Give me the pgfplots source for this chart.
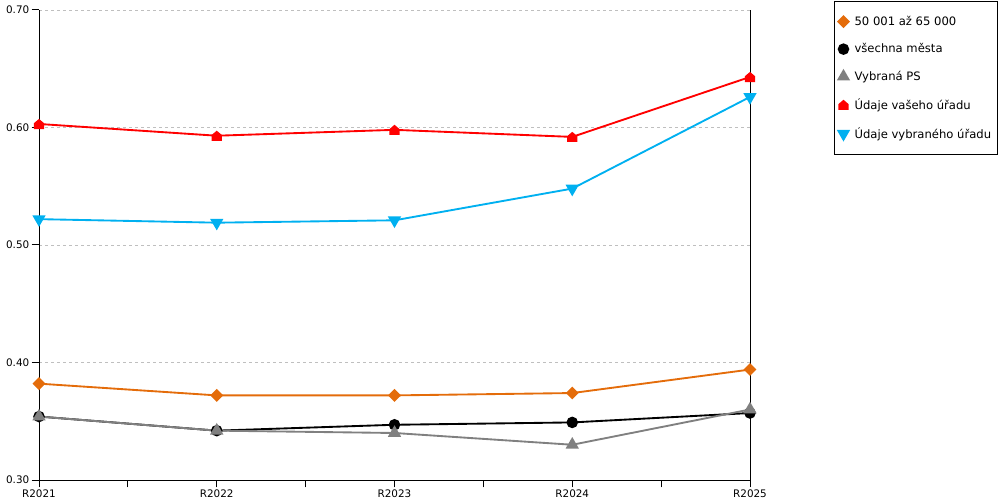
\documentclass[border=0pt]{standalone}
\usepackage{fontspec}
\setmainfont{DejaVu Sans}
\usepackage{pgfplots}
\pgfplotsset{compat=1.18}
\definecolor{corange}{RGB}{228,108,10}
\definecolor{cgray}{RGB}{128,128,128}
\definecolor{cred}{RGB}{255,0,0}
\definecolor{cblue}{RGB}{0,176,240}
\pgfdeclareplotmark{house}{%
 \pgfpathmoveto{\pgfqpoint{-\pgfplotmarksize}{-\pgfplotmarksize}}%
 \pgfpathlineto{\pgfqpoint{\pgfplotmarksize}{-\pgfplotmarksize}}%
 \pgfpathlineto{\pgfqpoint{\pgfplotmarksize}{0.15\pgfplotmarksize}}%
 \pgfpathlineto{\pgfqpoint{0pt}{\pgfplotmarksize}}%
 \pgfpathlineto{\pgfqpoint{-\pgfplotmarksize}{0.15\pgfplotmarksize}}%
 \pgfpathclose\pgfusepathqfill}
\begin{document}
\fontsize{7.8bp}{9bp}\selectfont
\begin{tikzpicture}
\useasboundingbox (-29.25bp,-15bp) rectangle (720.75bp,360bp);
\begin{axis}[
  scale only axis,
  width=533.25bp, height=352.5bp,
  xmin=0, xmax=4, ymin=0.3, ymax=0.7,
  xtick={0,1,2,3,4},
  xticklabels={R2021,R2022,R2023,R2024,R2025},
  minor x tick num=1,
  ytick={0.3,0.4,0.5,0.6,0.7},
  /pgf/number format/fixed,
  /pgf/number format/fixed zerofill,
  /pgf/number format/precision=2,
  /pgf/number format/assume math mode=true,
  axis x line*=bottom, axis y line*=left,
  axis line style={-, black, line width=0.75bp},
  tick style={black, line width=0.75bp},
  tick align=outside,
  major tick length=5.5bp, minor tick length=5.5bp,
  xtick pos=bottom, ytick pos=left,
  ymajorgrids,
  grid style={gray!50, line width=0.6bp, dash pattern=on 2bp off 2.5bp},
  tick label style={font=\fontsize{7.8bp}{9bp}\selectfont},
  xticklabel style={yshift=1bp},
  yticklabel style={xshift=1bp},
  every axis plot/.append style={line width=1.4bp},
  clip=false,
  legend style={at={(1.118,1.019)}, anchor=north west, draw=black, line width=0.75bp,
    font=\fontsize{8.7bp}{9.5bp}\selectfont, row sep=8.5bp, inner xsep=3bp, inner ysep=9bp,
    cells={anchor=west},
    /tikz/every odd column/.append style={column sep=2.5bp}},
  legend cell align=left,
  legend image code/.code={\draw[#1] plot coordinates {(0.1cm,0cm)};},
]
\draw[black, line width=0.75bp] (rel axis cs:1,0) -- (rel axis cs:1,1);
\addplot[color=corange, mark=square*, mark size=2.7bp, mark options={rotate=45}] coordinates {(0,0.382)(1,0.372)(2,0.372)(3,0.374)(4,0.394)};
\addlegendentry{50 001 až 65 000}
\addplot[color=black, mark=*, mark size=3.6bp] coordinates {(0,0.354)(1,0.342)(2,0.347)(3,0.349)(4,0.357)};
\addlegendentry{všechna města}
\addplot[color=cgray, mark=triangle*, mark size=4.4bp] coordinates {(0,0.354)(1,0.342)(2,0.340)(3,0.330)(4,0.360)};
\addlegendentry{Vybraná PS}
\addplot[color=cred, mark=house, mark size=3.8bp] coordinates {(0,0.603)(1,0.593)(2,0.598)(3,0.592)(4,0.643)};
\addlegendentry{Údaje vašeho úřadu}
\addplot[color=cblue, mark=triangle*, mark size=4.4bp, mark options={rotate=180}] coordinates {(0,0.522)(1,0.519)(2,0.521)(3,0.548)(4,0.626)};
\addlegendentry{Údaje vybraného úřadu}
\end{axis}
\end{tikzpicture}
\end{document}
